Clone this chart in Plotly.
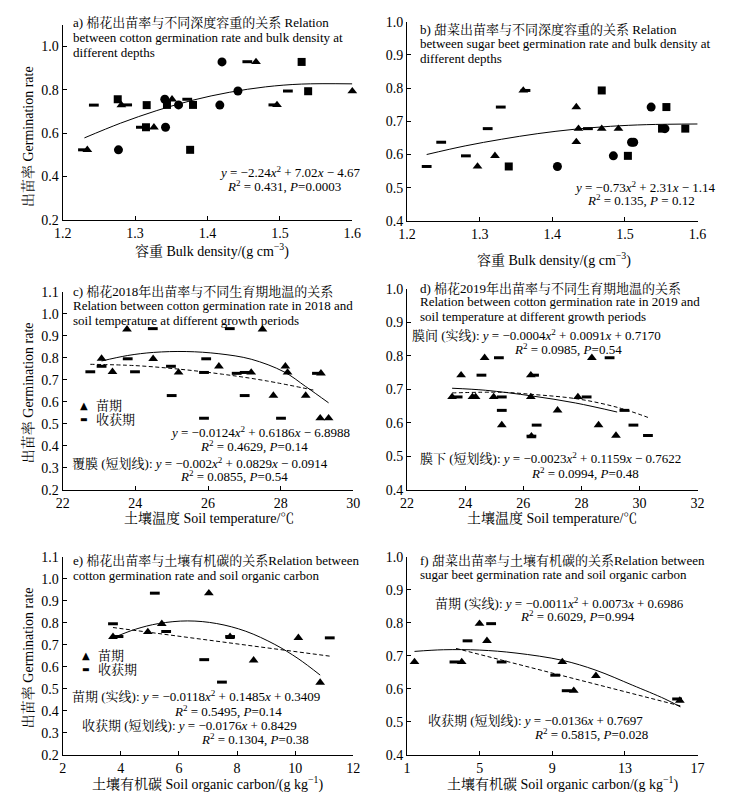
import plotly.graph_objects as go

W, H = 734, 806
FONT = "Liberation Serif, 'Noto Serif CJK SC', 'Noto Sans CJK SC', serif"

# ---------------- tick values ----------------
ticks_bd = [1.2, 1.3, 1.4, 1.5, 1.6]
ticks_a_y = [0.2, 0.4, 0.6, 0.8, 1.0]
ticks_b_y = [0.4, 0.5, 0.6, 0.7, 0.8, 0.9, 1.0]
ticks_c_x = [22, 24, 26, 28, 30]
ticks_c_y = [0.2, 0.3, 0.4, 0.5, 0.6, 0.7, 0.8, 0.9, 1.0, 1.1]
ticks_d_x = [22, 24, 26, 28, 30, 32]
ticks_d_y = [0.4, 0.5, 0.6, 0.7, 0.8, 0.9, 1.0]
ticks_e_x = [2, 4, 6, 8, 10, 12]
ticks_e_y = [0.2, 0.3, 0.4, 0.5, 0.6, 0.7, 0.8, 0.9, 1.0, 1.1]
ticks_f_x = [1, 5, 9, 13, 17]
ticks_f_y = [0.4, 0.5, 0.6, 0.7, 0.8, 0.9, 1.0]

# ---------------- Panel a: cotton, bulk density ----------------
a_circle_x = [1.277, 1.341, 1.342, 1.360, 1.417, 1.420, 1.442]
a_circle_y = [0.523, 0.756, 0.627, 0.730, 0.729, 0.928, 0.794]
a_square_x = [1.276, 1.315, 1.316, 1.344, 1.376, 1.380, 1.530, 1.539]
a_square_y = [0.756, 0.627, 0.729, 0.730, 0.523, 0.730, 0.928, 0.793]
a_tri_x = [1.234, 1.281, 1.326, 1.351, 1.467, 1.496, 1.600]
a_tri_y = [0.523, 0.729, 0.627, 0.756, 0.928, 0.730, 0.793]
a_dash_x = [1.228, 1.243, 1.289, 1.308, 1.372, 1.455, 1.491, 1.511]
a_dash_y = [0.523, 0.729, 0.730, 0.627, 0.756, 0.929, 0.730, 0.794]
a_fit_x = [1.23, 1.28, 1.33, 1.38, 1.43, 1.48, 1.53, 1.60]
a_fit_y = [0.578, 0.646, 0.704, 0.752, 0.788, 0.813, 0.826, 0.827]

# ---------------- Panel b: sugar beet, bulk density ----------------
b_circle_x = [1.407, 1.484, 1.509, 1.512, 1.536, 1.555]
b_circle_y = [0.564, 0.596, 0.637, 0.637, 0.743, 0.678]
b_square_x = [1.340, 1.468, 1.504, 1.551, 1.557, 1.583]
b_square_y = [0.564, 0.793, 0.596, 0.678, 0.743, 0.678]
b_tri_x = [1.297, 1.321, 1.360, 1.433, 1.433, 1.436, 1.468, 1.491]
b_tri_y = [0.564, 0.596, 0.793, 0.743, 0.638, 0.678, 0.678, 0.678]
b_dash_x = [1.227, 1.247, 1.281, 1.311, 1.329, 1.363, 1.449]
b_dash_y = [0.564, 0.637, 0.596, 0.678, 0.743, 0.793, 0.678]
b_fit_x = [1.227, 1.28, 1.33, 1.38, 1.43, 1.48, 1.53, 1.60]
b_fit_y = [0.600, 0.626, 0.646, 0.663, 0.676, 0.685, 0.690, 0.692]

# ---------------- Panel c: cotton 2018, soil temperature ----------------
c_seed_x = [23.07, 23.37, 23.77, 24.49, 25.19, 26.30, 27.19, 27.50, 27.80, 28.13, 28.19, 28.69, 29.11, 29.09, 29.32]
c_seed_y = [0.796, 0.736, 0.929, 0.795, 0.733, 0.761, 0.733, 0.929, 0.628, 0.761, 0.733, 0.628, 0.729, 0.525, 0.525]
c_harv_x = [22.76, 23.07, 23.79, 23.99, 24.48, 24.98, 25.00, 25.89, 25.89, 25.95, 26.60, 26.79, 27.01, 27.01, 28.01, 29.00]
c_harv_y = [0.736, 0.761, 0.795, 0.736, 0.932, 0.761, 0.628, 0.733, 0.525, 0.795, 0.932, 0.729, 0.733, 0.628, 0.525, 0.729]
c_solid_x = [23.07, 23.79, 24.5, 25.4, 26.3, 27.19, 28.09, 28.69, 29.32]
c_solid_y = [0.785, 0.810, 0.824, 0.828, 0.818, 0.793, 0.736, 0.669, 0.595]
c_dashed_x = [22.76, 24.0, 25.2, 26.4, 27.6, 28.96]
c_dashed_y = [0.770, 0.764, 0.748, 0.725, 0.695, 0.651]

# ---------------- Panel d: cotton 2019, soil temperature ----------------
d_tri_x = [23.55, 23.86, 24.25, 24.36, 24.67, 24.98, 25.26, 26.26, 26.26, 26.28, 27.18, 27.88, 28.36, 28.59, 29.19]
d_tri_y = [0.677, 0.742, 0.677, 0.677, 0.794, 0.677, 0.593, 0.742, 0.677, 0.560, 0.637, 0.677, 0.794, 0.593, 0.562]
d_dash_x = [23.74, 24.56, 25.16, 25.26, 25.26, 26.37, 26.46, 26.28, 28.18, 28.97, 29.48, 29.79, 30.29]
d_dash_y = [0.677, 0.742, 0.794, 0.677, 0.637, 0.742, 0.593, 0.560, 0.677, 0.794, 0.637, 0.593, 0.562]
d_solid_x = [23.55, 24.7, 26.3, 27.8, 29.23]
d_solid_y = [0.703, 0.697, 0.680, 0.659, 0.632]
d_dashed_x = [23.55, 25.26, 26.26, 27.88, 29.28, 30.29]
d_dashed_y = [0.689, 0.691, 0.685, 0.671, 0.645, 0.616]

# ---------------- Panel e: cotton, soil organic carbon ----------------
e_seed_x = [3.73, 4.93, 5.41, 7.03, 7.76, 8.57, 10.11, 10.86]
e_seed_y = [0.736, 0.758, 0.795, 0.934, 0.736, 0.629, 0.731, 0.528]
e_harv_x = [3.73, 3.92, 5.17, 5.56, 6.87, 7.48, 7.76, 11.19]
e_harv_y = [0.795, 0.737, 0.934, 0.760, 0.632, 0.530, 0.737, 0.731]
e_solid_x = [3.73, 4.5, 5.3, 6.3, 7.3, 8.3, 9.3, 10.1, 10.86]
e_solid_y = [0.731, 0.770, 0.796, 0.808, 0.796, 0.761, 0.701, 0.637, 0.562]
e_dashed_x = [3.73, 11.19]
e_dashed_y = [0.778, 0.648]

# ---------------- Panel f: sugar beet, soil organic carbon ----------------
f_seed_x = [1.41, 4.01, 4.99, 5.40, 9.55, 10.18, 11.40, 16.02]
f_seed_y = [0.681, 0.681, 0.797, 0.745, 0.681, 0.594, 0.639, 0.564]
f_harv_x = [3.61, 4.33, 5.63, 6.21, 9.16, 9.79, 15.87]
f_harv_y = [0.681, 0.745, 0.797, 0.681, 0.641, 0.594, 0.569]
f_solid_x = [1.41, 3.0, 5.0, 7.0, 9.55, 11.4, 13.4, 15.2, 16.05]
f_solid_y = [0.713, 0.718, 0.717, 0.708, 0.686, 0.656, 0.611, 0.569, 0.545]
f_dashed_x = [3.70, 16.05]
f_dashed_y = [0.722, 0.548]

# ---------------- styles ----------------
M_CIRCLE = dict(symbol="circle", size=9, color="black")
M_SQUARE = dict(symbol="square", size=8, color="black")
M_TRI = dict(symbol="triangle-up", size=8.5, color="black")
M_DASH = dict(symbol="line-ew", size=7, color="black", line=dict(width=3, color="black"))
L_SOLID = dict(color="black", width=1, shape="spline")
L_DASH = dict(color="black", width=1, dash="4px,2.5px", shape="spline")

fig = go.Figure()


def pts(x, y, marker, ax, name=""):
    fig.add_trace(go.Scatter(
        x=x, y=y, mode="markers", marker=marker, xaxis="x" + ax, yaxis="y" + ax,
        cliponaxis=False, name=name, showlegend=False))


def line(x, y, style, ax, name=""):
    fig.add_trace(go.Scatter(
        x=x, y=y, mode="lines", line=style, xaxis="x" + ax, yaxis="y" + ax,
        cliponaxis=False, showlegend=False, name=name, hoverinfo="skip"))


# a
line(a_fit_x, a_fit_y, L_SOLID, "", "fit")
pts(a_circle_x, a_circle_y, M_CIRCLE, "")
pts(a_square_x, a_square_y, M_SQUARE, "")
pts(a_tri_x, a_tri_y, M_TRI, "")
pts(a_dash_x, a_dash_y, M_DASH, "")
# b
line(b_fit_x, b_fit_y, L_SOLID, "2", "fit")
pts(b_circle_x, b_circle_y, M_CIRCLE, "2")
pts(b_square_x, b_square_y, M_SQUARE, "2")
pts(b_tri_x, b_tri_y, M_TRI, "2")
pts(b_dash_x, b_dash_y, M_DASH, "2")
# c
line(c_solid_x, c_solid_y, L_SOLID, "3", "苗期")
line(c_dashed_x, c_dashed_y, L_DASH, "3", "覆膜")
pts(c_seed_x, c_seed_y, M_TRI, "3", "苗期")
pts(c_harv_x, c_harv_y, M_DASH, "3", "收获期")
# d
line(d_solid_x, d_solid_y, L_SOLID, "4", "膜间")
line(d_dashed_x, d_dashed_y, L_DASH, "4", "膜下")
pts(d_tri_x, d_tri_y, M_TRI, "4", "苗期")
pts(d_dash_x, d_dash_y, M_DASH, "4", "收获期")
# e
line(e_solid_x, e_solid_y, L_SOLID, "5", "苗期")
line(e_dashed_x, e_dashed_y, L_DASH, "5", "收获期")
pts(e_seed_x, e_seed_y, M_TRI, "5", "苗期")
pts(e_harv_x, e_harv_y, M_DASH, "5", "收获期")
# f
line(f_solid_x, f_solid_y, L_SOLID, "6", "苗期")
line(f_dashed_x, f_dashed_y, L_DASH, "6", "收获期")
pts(f_seed_x, f_seed_y, M_TRI, "6", "苗期")
pts(f_harv_x, f_harv_y, M_DASH, "6", "收获期")


def dom_x(p0, p1):
    return [p0 / W, p1 / W]


def dom_y(top, bottom):
    return [1 - bottom / H, 1 - top / H]


def axis(dom, rng, tickvals, fmt, anchor):
    pad = (rng[1] - rng[0]) * 2e-4
    return dict(domain=dom, range=[rng[0] - pad, rng[1] + pad],
                tickmode="array", tickvals=tickvals,
                ticktext=[format(v, fmt) for v in tickvals],
                showline=True, linecolor="black", linewidth=1, mirror=False,
                ticks="inside", ticklen=4, tickcolor="black", tickwidth=1,
                showgrid=False, zeroline=False, anchor=anchor,
                ticklabeloverflow="allow",
                tickfont=dict(family=FONT, size=14, color="black"))


layout = dict(
    width=W, height=H, margin=dict(l=0, r=0, t=0, b=0),
    paper_bgcolor="white", plot_bgcolor="white",
    font=dict(family=FONT, size=13, color="black"),
    showlegend=False,
    xaxis=axis(dom_x(55, 352), [1.2, 1.6], ticks_bd, ".1f", "y"),
    yaxis=axis(dom_y(17.9, 217), [0.2, 1.1], ticks_a_y, ".1f", "x"),
    xaxis2=axis(dom_x(408, 706), [1.2, 1.6], ticks_bd, ".1f", "y2"),
    yaxis2=axis(dom_y(15, 218), [0.4, 1.0], ticks_b_y, ".1f", "x2"),
    xaxis3=axis(dom_x(55, 353), [22, 30], ticks_c_x, "d", "y3"),
    yaxis3=axis(dom_y(290, 492), [0.2, 1.1], ticks_c_y, ".1f", "x3"),
    xaxis4=axis(dom_x(408, 706), [22, 32], ticks_d_x, "d", "y4"),
    yaxis4=axis(dom_y(287, 492), [0.4, 1.0], ticks_d_y, ".1f", "x4"),
    xaxis5=axis(dom_x(55, 353), [2, 12], ticks_e_x, "d", "y5"),
    yaxis5=axis(dom_y(560, 762), [0.2, 1.1], ticks_e_y, ".1f", "x5"),
    xaxis6=axis(dom_x(408, 706), [1, 17], ticks_f_x, "d", "y6"),
    yaxis6=axis(dom_y(560, 762), [0.4, 1.0], ticks_f_y, ".1f", "x6"),
)

anns = []


def ann(text, px, py, xanchor="center", size=13, angle=0, family=FONT):
    anns.append(dict(text=text, x=px / W, y=1 - py / H, xref="paper", yref="paper",
                     xanchor=xanchor, yanchor="middle", showarrow=False, textangle=angle,
                     font=dict(family=family, size=size, color="black")))


Y, X, R, P = "<i>y</i>", "<i>x</i>", "<i>R</i>", "<i>P</i>"
SQ = "<sup>2</sup>"
YT = "出苗率 Germination rate"
GLYPH = "DejaVu Sans"

# a
ann("a) 棉花出苗率与不同深度容重的关系 Relation", 64, 16, "left")
ann("between cotton germination rate and bulk density at", 64, 31, "left")
ann("different depths", 64, 46, "left")
ann(f"{Y} = −2.24{X}{SQ} + 7.02{X} − 4.67", 288, 168)
ann(f"{R}{SQ} = 0.431, {P}=0.0003", 282, 182)
ann("容重 Bulk density/(g cm<sup>−3</sup>)", 208, 248, size=14)
ann(YT, 19, 132, size=14, angle=-90)
# b
ann("b) 甜菜出苗率与不同深度容重的关系 Relation", 419, 23, "left")
ann("between sugar beet germination rate and bulk density at", 419, 37, "left")
ann("different depths", 419, 52, "left")
ann(f"{Y} = −0.73{X}{SQ} + 2.31{X} − 1.14", 651, 183)
ann(f"{R}{SQ} = 0.135, {P} = 0.12", 648, 197)
ann("容重 Bulk density/(g cm<sup>−3</sup>)", 559, 257, size=14)
# c
ann("c) 棉花2018年出苗率与不同生育期地温的关系", 64, 290, "left")
ann("Relation between cotton germination rate in 2018 and", 64, 304, "left")
ann("soil temperature at different growth periods", 64, 319, "left")
ann(f"{Y} = −0.0124{X}{SQ} + 0.6186{X} − 6.8988", 257, 433)
ann(f"{R}{SQ} = 0.4629, {P}=0.14", 251, 447)
ann(f"覆膜 (短划线): {Y} = −0.002{X}{SQ} + 0.0829{X} − 0.0914", 196, 465)
ann(f"{R}{SQ} = 0.0855, {P}=0.54", 231, 478)
ann("土壤温度 Soil temperature/℃", 205, 521, size=14)
ann(YT, 19, 393, size=14, angle=-90)
ann("▲", 77, 406, size=10, family=GLYPH)
ann("苗期", 87, 406, "left")
ann("▬", 77, 420, size=8, family=GLYPH)
ann("收获期", 87, 420, "left")
# d
ann("d) 棉花2019年出苗率与不同生育期地温的关系", 419, 287, "left")
ann("Relation between cotton germination rate in 2019 and", 419, 300, "left")
ann("soil temperature at different growth periods", 419, 315, "left")
ann(f"膜间 (实线): {Y} = −0.0004{X}{SQ} + 0.0091{X} + 0.7170", 541, 334)
ann(f"{R}{SQ} = 0.0985, {P}=0.54", 573, 348)
ann(f"膜下 (短划线): {Y} = −0.0023{X}{SQ} + 0.1159{X} − 0.7622", 555, 460)
ann(f"{R}{SQ} = 0.0994, {P}=0.48", 590, 475)
ann("土壤温度 Soil temperature/℃", 557, 521, size=14)
# e
ann("e) 棉花出苗率与土壤有机碳的关系Relation between", 64, 564, "left")
ann("cotton germination rate and soil organic carbon", 64, 579, "left")
ann("▲", 79, 661, size=10, family=GLYPH)
ann("苗期", 89, 661, "left")
ann("▬", 79, 675, size=8, family=GLYPH)
ann("收获期", 89, 675, "left")
ann(f"苗期 (实线): {Y} = −0.0118{X}{SQ} + 0.1485{X} + 0.3409", 192, 702)
ann(f"{R}{SQ} = 0.5495, {P}=0.14", 224, 717)
ann(f"收获期 (短划线): {Y} = −0.0176{X} + 0.8429", 185, 732)
ann(f"{R}{SQ} = 0.1304, {P}=0.38", 252, 746)
ann("土壤有机碳 Soil organic carbon/(g kg<sup>−1</sup>)", 203, 791, size=14)
ann(YT, 19, 663, size=14, angle=-90)
# f
ann("f) 甜菜出苗率与土壤有机碳的关系Relation between", 419, 564, "left")
ann("sugar beet germination rate and soil organic carbon", 419, 578, "left")
ann(f"苗期 (实线): {Y} = −0.0011{X}{SQ} + 0.0073{X} + 0.6986", 564, 607)
ann(f"{R}{SQ} = 0.6029, {P}=0.994", 583, 621)
ann(f"收获期 (短划线): {Y} = −0.0136{X} + 0.7697", 540, 727)
ann(f"{R}{SQ} = 0.5815, {P}=0.028", 597, 741)
ann("土壤有机碳 Soil organic carbon/(g kg<sup>−1</sup>)", 567, 791, size=14)

layout["annotations"] = anns
fig.update_layout(**layout)
fig.write_html("out.html", config={"displayModeBar": False},
               post_script="document.body.style.margin='0px';")
